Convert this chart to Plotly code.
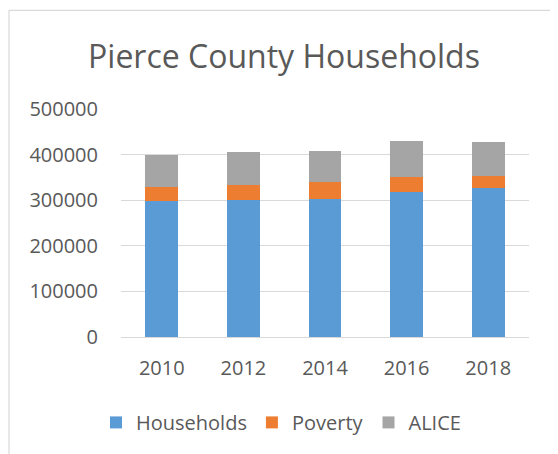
import plotly.graph_objects as go

years = ["2010", "2012", "2014", "2016", "2018"]
households = [299000, 301000, 303000, 318000, 327000]
poverty = [31000, 33000, 36000, 33000, 27000]
alice = [70000, 72000, 69000, 78000, 73000]
y_ticks = [0, 100000, 200000, 300000, 400000, 500000]

colors = {"Households": "#5B9BD5", "Poverty": "#ED7D31", "ALICE": "#A5A5A5"}
font_fam = "Open Sans, DejaVu Sans, sans-serif"
txt = "#595959"

fig = go.Figure()
for name, vals in [("Households", households), ("Poverty", poverty), ("ALICE", alice)]:
    fig.add_trace(go.Bar(x=years, y=vals, name=name, marker_color=colors[name],
                         marker_line_width=0))

OFF = 8  # page body margin
W, H = 550, 446
left_px, right_px, top_px, bot_px = 121 - OFF, 529 - OFF, 109 - OFF, 336.7 - OFF
ml, mr, mt, mb = left_px, W - right_px, top_px, H - bot_px
pw, ph = right_px - left_px, bot_px - top_px

def px_x(x):
    return (x - OFF - left_px) / pw

def px_y(y):
    return (bot_px - (y - OFF)) / ph

fig.update_layout(
    width=W, height=H,
    margin=dict(l=ml, r=mr, t=mt, b=mb, pad=0),
    barmode="stack", bargap=0.6,
    paper_bgcolor="white", plot_bgcolor="white",
    font=dict(family=font_fam, color=txt, size=20),
    title=dict(text="Pierce County Households", x=(284 - OFF) / W, xanchor="center",
               y=1 - (57 - OFF) / H, yanchor="middle",
               font=dict(size=32, color=txt, family=font_fam)),
    showlegend=True,
    legend=dict(orientation="h", x=px_x(96), xanchor="left", y=px_y(422), yanchor="middle",
                font=dict(size=20, color=txt), traceorder="normal",
                itemwidth=30, bgcolor="rgba(0,0,0,0)"),
    xaxis=dict(showgrid=False, showline=True, linecolor="#D9D9D9", linewidth=1,
               ticks="", ticklabelstandoff=13, tickfont=dict(size=20, color=txt)),
    yaxis=dict(range=[0, 500000], tickvals=y_ticks, ticktext=[str(v) for v in y_ticks],
               showgrid=True, gridcolor="#D9D9D9", gridwidth=1, zeroline=False,
               showline=False, ticks="", ticklabelstandoff=22,
               tickfont=dict(size=20, color=txt)),
    shapes=[
        dict(type="rect", xref="paper", yref="paper",
             x0=px_x(9), x1=px_x(556), y0=px_y(470), y1=px_y(10.5),
             line=dict(color="#D9D9D9", width=1.2), fillcolor="rgba(0,0,0,0)", layer="below"),
    ],
)

fig.write_html("out.html")
